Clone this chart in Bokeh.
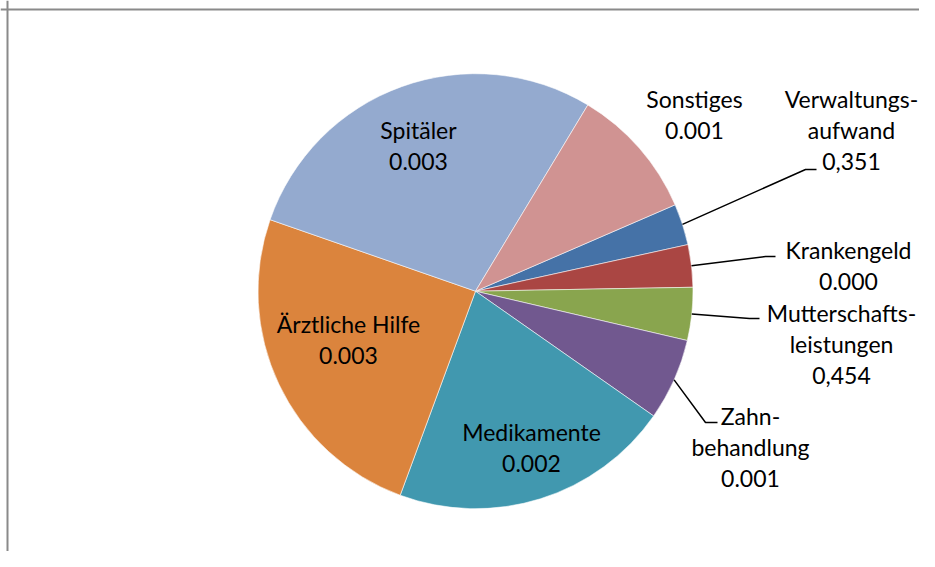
import math
from bokeh.plotting import figure
from bokeh.models import ColumnDataSource, Span
from bokeh.core.properties import value
from bokeh.embed import file_html
from bokeh.resources import INLINE

# ---- data ----
categories = ["Verwaltungsaufwand", "Krankengeld", "Mutterschaftsleistungen",
              "Zahnbehandlung", "Medikamente", "Ärztliche Hilfe", "Spitäler", "Sonstiges"]
shares = [3.06, 3.15, 3.93, 6.08, 20.9, 24.7, 28.3, 9.86]
colors = ["#4572A7", "#AA4643", "#89A54E", "#71588F", "#4198AF", "#DB843D", "#94AACF", "#D09392"]
label_texts = [
    ["Verwaltungs-", "aufwand", "0,351"],
    ["Krankengeld", "0.000"],
    ["Mutterschafts-", "leistungen", "0,454"],
    ["Zahn-", "behandlung", "0.001"],
    ["Medikamente", "0.002"],
    ["Ärztliche Hilfe", "0.003"],
    ["Spitäler", "0.003"],
    ["Sonstiges", "0.001"],
]
# label centres (page pixels) and leader line elbows
label_pos = [(851, 98), (848, 249), (841, 312), (750, 415),
             (531, 431), (348, 323), (418, 129), (694, 98)]
leader_end = [(805, 169), (765, 256), (749, 318), (705, 422),
              None, None, None, None]
leader_tail = [11, 10, 10, 12, 0, 0, 0, 0]

W, H = 919, 551
def px(x):
    return x
def py(y):
    return H - y

cx, cy, R = px(475), py(290.7), 217.5
a0 = math.radians(23.4)
total = sum(shares)

starts, ends, mids = [], [], []
cum = 0.0
for s in shares:
    st = a0 - cum / total * 2 * math.pi
    cum += s
    en = a0 - cum / total * 2 * math.pi
    starts.append(st)
    ends.append(en)
    mids.append((st + en) / 2)

src = ColumnDataSource(dict(cat=categories, share=shares, color=colors,
                            start=starts, end=ends))

p = figure(width=W, height=H, x_range=(0, W), y_range=(0, H),
           output_backend="svg", toolbar_location=None, min_border=0,
           x_axis_location=None, y_axis_location=None)
p.grid.visible = False
p.outline_line_color = None
p.background_fill_color = "white"
p.border_fill_color = "white"

# chart-area border (top/left visible in reference)
p.add_layout(Span(location=px(7), dimension="height", line_color="#8a8a8a", line_width=2))
p.add_layout(Span(location=py(9), dimension="width", line_color="#8a8a8a", line_width=2))

p.wedge(x=cx, y=cy, radius=R, start_angle="start", end_angle="end",
        direction="clock", fill_color="color", line_color="white",
        line_width=0.8, line_alpha=0.7, source=src)

# leader lines
xs, ys = [], []
for m, e, t in zip(mids, leader_end, leader_tail):
    if e is None:
        continue
    sx = cx + R * math.cos(m)
    sy = cy + R * math.sin(m)
    xs.append([sx, px(e[0]), px(e[0]) + t])
    ys.append([sy, py(e[1]), py(e[1])])
p.multi_line(xs=xs, ys=ys, line_color="black", line_width=1.5)

# labels
tx, ty, tt = [], [], []
LH = 31.5
for lines, (lx, ly) in zip(label_texts, label_pos):
    for i, line in enumerate(lines):
        tx.append(px(lx))
        ty.append(py(ly + i * LH))
        tt.append(line)
p.text(x=tx, y=ty, text=tt, text_align="center", text_baseline="middle",
       text_font=value("Lato"), text_font_size="23px", text_color="black")

open("out.html", "w").write(file_html(p, INLINE))
